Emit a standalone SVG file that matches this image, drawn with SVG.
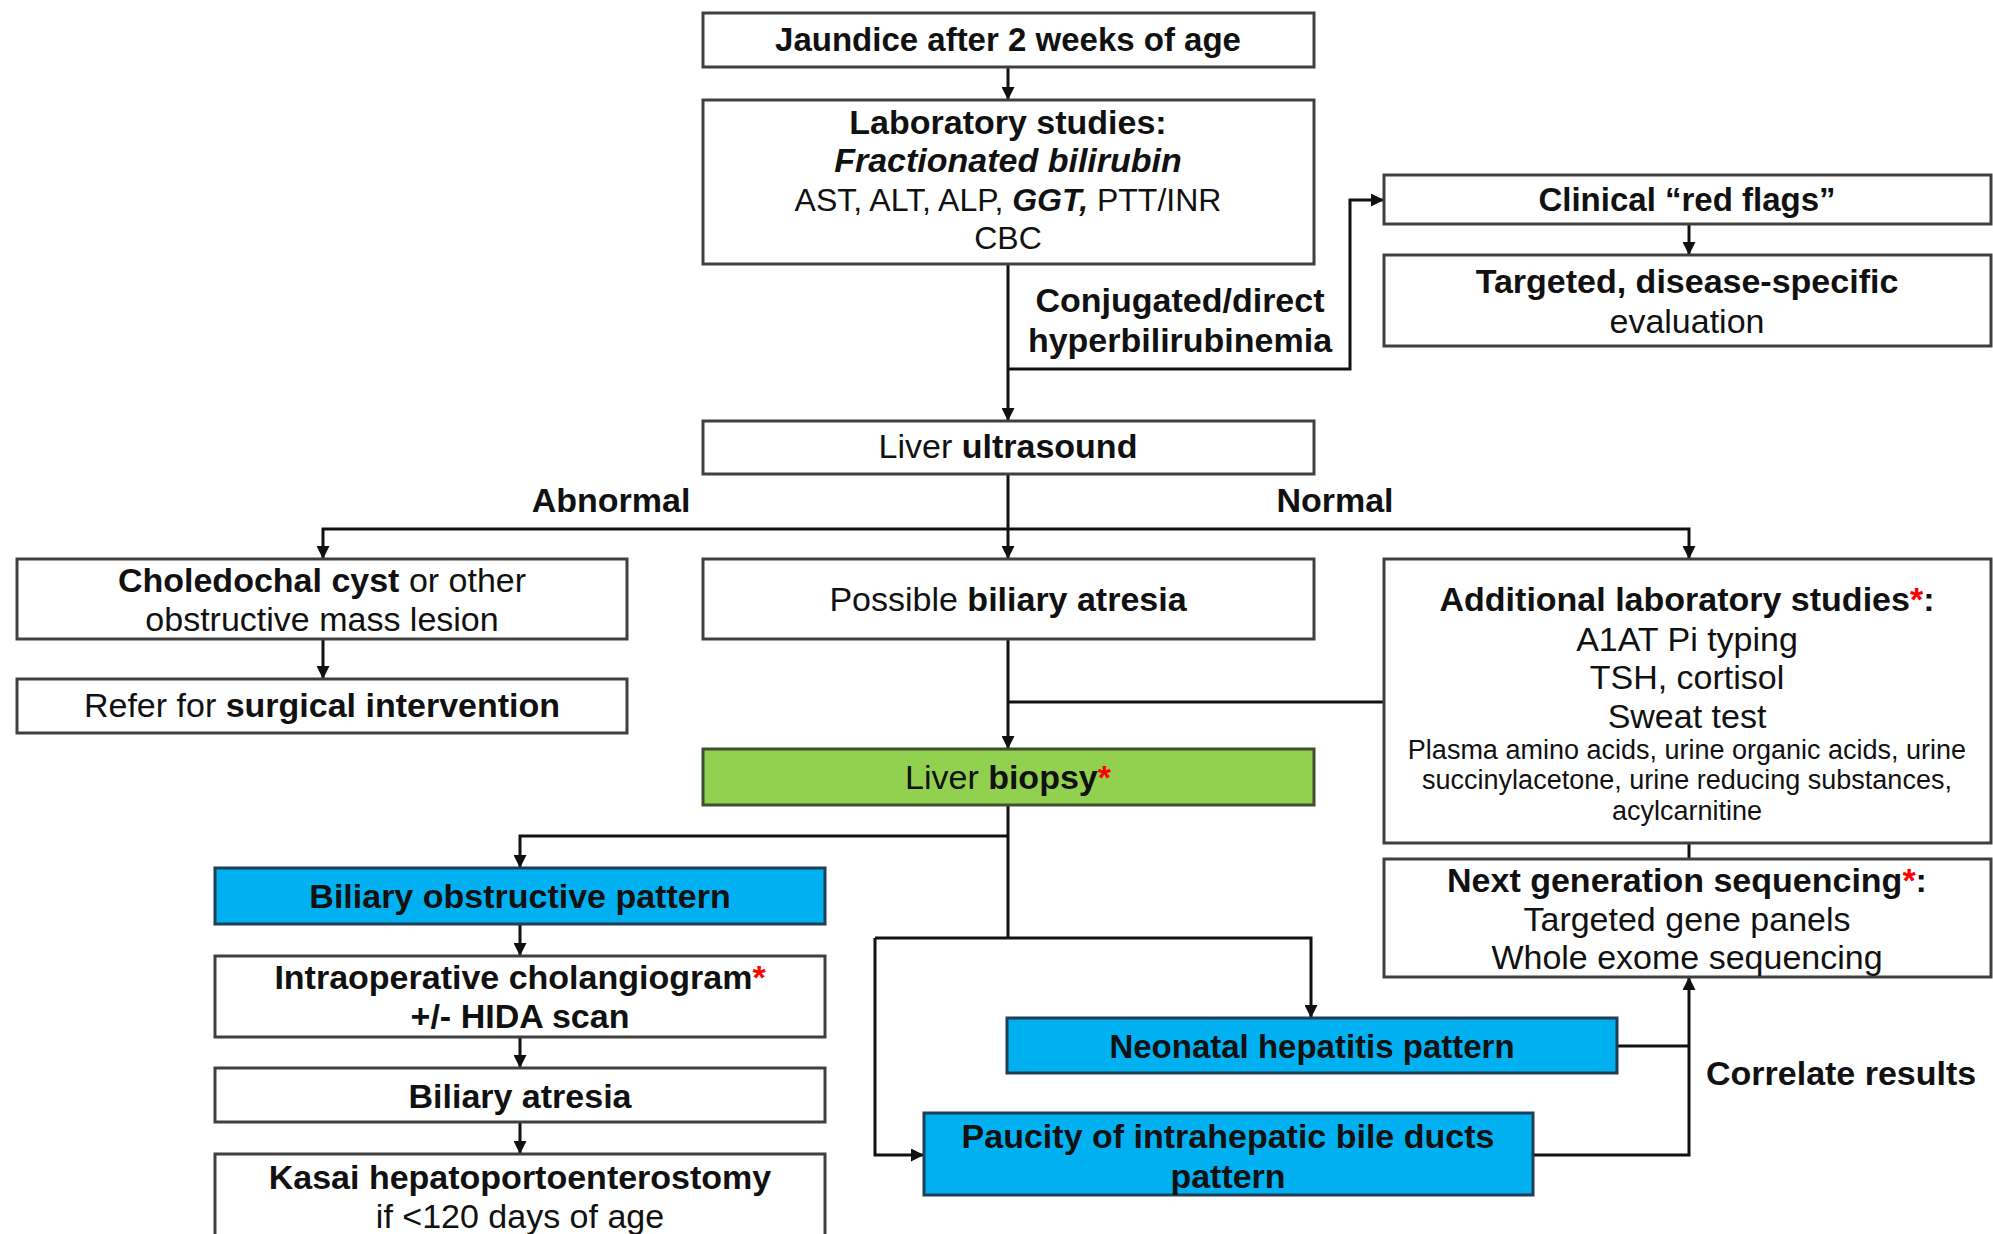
<svg xmlns="http://www.w3.org/2000/svg" width="1993" height="1234" viewBox="0 0 1993 1234">
<style>
.box{fill:#ffffff;stroke:#404040;stroke-width:3}
.blue{fill:#00B0F0;stroke:#1F3F55;stroke-width:3}
.green{fill:#92D050;stroke:#3F4F30;stroke-width:3}
.t{font-family:"Liberation Sans",Arial,sans-serif;font-size:34px;fill:#111111;text-anchor:middle}
.s{font-family:"Liberation Sans",Arial,sans-serif;font-size:27px;fill:#111111;text-anchor:middle}
.b{font-weight:bold}
.i{font-style:italic}
.r{fill:#FF0000;font-weight:bold}
.c{fill:none;stroke:#111111;stroke-width:3}
</style>
<defs>
<marker id="ah" viewBox="0 0 10 10" refX="10" refY="5" markerWidth="13" markerHeight="13" markerUnits="userSpaceOnUse" orient="auto">
<path d="M0,0 L10,5 L0,10 z" fill="#111111"/>
</marker>
</defs>

<g id="connectors">
<line class="c" x1="1008" y1="67" x2="1008" y2="100" marker-end="url(#ah)"/>
<line class="c" x1="1008" y1="264" x2="1008" y2="421" marker-end="url(#ah)"/>
<polyline class="c" points="1008,369 1350,369 1350,200 1384,200" marker-end="url(#ah)"/>
<line class="c" x1="1689" y1="224" x2="1689" y2="255" marker-end="url(#ah)"/>
<line class="c" x1="1008" y1="474" x2="1008" y2="559" marker-end="url(#ah)"/>
<polyline class="c" points="1008,529 323,529 323,559" marker-end="url(#ah)"/>
<polyline class="c" points="1008,529 1689,529 1689,559" marker-end="url(#ah)"/>
<line class="c" x1="323" y1="639" x2="323" y2="679" marker-end="url(#ah)"/>
<line class="c" x1="1008" y1="639" x2="1008" y2="749" marker-end="url(#ah)"/>
<line class="c" x1="1384" y1="702" x2="1008" y2="702"/>
<line class="c" x1="1689" y1="843" x2="1689" y2="859"/>
<line class="c" x1="1008" y1="805" x2="1008" y2="938"/>
<polyline class="c" points="1008,836 520,836 520,868" marker-end="url(#ah)"/>
<polyline class="c" points="875,938 1311,938 1311,1018" marker-end="url(#ah)"/>
<polyline class="c" points="875,938 875,1155 924,1155" marker-end="url(#ah)"/>
<line class="c" x1="520" y1="924" x2="520" y2="956" marker-end="url(#ah)"/>
<line class="c" x1="520" y1="1037" x2="520" y2="1068" marker-end="url(#ah)"/>
<line class="c" x1="520" y1="1122" x2="520" y2="1154" marker-end="url(#ah)"/>
<polyline class="c" points="1617,1046 1689,1046"/>
<polyline class="c" points="1533,1155 1689,1155 1689,977" marker-end="url(#ah)"/>
<text class="t b" x="1180" y="312">Conjugated/direct</text>
<text class="t b" x="1180" y="352">hyperbilirubinemia</text>
<text class="t b" x="611" y="512">Abnormal</text>
<text class="t b" x="1335" y="512">Normal</text>
<text class="t b" x="1706" y="1085" style="text-anchor:start">Correlate results</text>
</g>

<g id="jaundice">
<rect class="box" x="703" y="13" width="611" height="54"/>
<text class="t b" x="1008" y="51" style="font-size:33px">Jaundice after 2 weeks of age</text>
</g>

<g id="lab">
<rect class="box" x="703" y="100" width="611" height="164"/>
<text class="t b" x="1008" y="134">Laboratory studies:</text>
<text class="t b i" x="1008" y="172">Fractionated bilirubin</text>
<text class="t" x="1008" y="211" style="font-size:32px">AST, ALT, ALP, <tspan class="b i">GGT,</tspan> PTT/INR</text>
<text class="t" x="1008" y="249" style="font-size:32px">CBC</text>
</g>

<g id="redflags">
<rect class="box" x="1384" y="175" width="607" height="49"/>
<text class="t b" x="1687" y="211" style="font-size:33px">Clinical “red flags”</text>
</g>

<g id="targeted">
<rect class="box" x="1384" y="255" width="607" height="91"/>
<text class="t b" x="1687" y="293">Targeted, disease-specific</text>
<text class="t" x="1687" y="333">evaluation</text>
</g>

<g id="ultrasound">
<rect class="box" x="703" y="421" width="611" height="53"/>
<text class="t" x="1008" y="458">Liver <tspan class="b">ultrasound</tspan></text>
</g>

<g id="choledochal">
<rect class="box" x="17" y="559" width="610" height="80"/>
<text class="t" x="322" y="592"><tspan class="b">Choledochal cyst</tspan> or other</text>
<text class="t" x="322" y="631">obstructive mass lesion</text>
</g>

<g id="refer">
<rect class="box" x="17" y="679" width="610" height="54"/>
<text class="t" x="322" y="717">Refer for <tspan class="b">surgical intervention</tspan></text>
</g>

<g id="possible-ba">
<rect class="box" x="703" y="559" width="611" height="80"/>
<text class="t" x="1008" y="611">Possible <tspan class="b">biliary atresia</tspan></text>
</g>

<g id="additional">
<rect class="box" x="1384" y="559" width="607" height="284"/>
<text class="t b" x="1687" y="611">Additional laboratory studies<tspan class="r">*</tspan>:</text>
<text class="t" x="1687" y="651">A1AT Pi typing</text>
<text class="t" x="1687" y="689">TSH, cortisol</text>
<text class="t" x="1687" y="728">Sweat test</text>
<text class="s" x="1687" y="759">Plasma amino acids, urine organic acids, urine</text>
<text class="s" x="1687" y="789">succinylacetone, urine reducing substances,</text>
<text class="s" x="1687" y="820">acylcarnitine</text>
</g>

<g id="ngs">
<rect class="box" x="1384" y="859" width="607" height="118"/>
<text class="t b" x="1687" y="892">Next generation sequencing<tspan class="r">*</tspan>:</text>
<text class="t" x="1687" y="931">Targeted gene panels</text>
<text class="t" x="1687" y="969">Whole exome sequencing</text>
</g>

<g id="biopsy">
<rect class="green" x="703" y="749" width="611" height="56"/>
<text class="t" x="1008" y="789">Liver <tspan class="b">biopsy</tspan><tspan class="r">*</tspan></text>
</g>

<g id="obstructive">
<rect class="blue" x="215" y="868" width="610" height="56"/>
<text class="t b" x="520" y="908">Biliary obstructive pattern</text>
</g>

<g id="cholangiogram">
<rect class="box" x="215" y="956" width="610" height="81"/>
<text class="t b" x="520" y="989">Intraoperative cholangiogram<tspan class="r">*</tspan></text>
<text class="t b" x="520" y="1028">+/- HIDA scan</text>
</g>

<g id="biliary-atresia">
<rect class="box" x="215" y="1068" width="610" height="54"/>
<text class="t b" x="520" y="1108">Biliary atresia</text>
</g>

<g id="kasai">
<rect class="box" x="215" y="1154" width="610" height="90"/>
<text class="t b" x="520" y="1189">Kasai hepatoportoenterostomy</text>
<text class="t" x="520" y="1228">if &lt;120 days of age</text>
</g>

<g id="neonatal">
<rect class="blue" x="1007" y="1018" width="610" height="55"/>
<text class="t b" x="1312" y="1058" style="font-size:33px">Neonatal hepatitis pattern</text>
</g>

<g id="paucity">
<rect class="blue" x="924" y="1113" width="609" height="82"/>
<text class="t b" x="1228" y="1148">Paucity of intrahepatic bile ducts</text>
<text class="t b" x="1228" y="1188">pattern</text>
</g>
</svg>
